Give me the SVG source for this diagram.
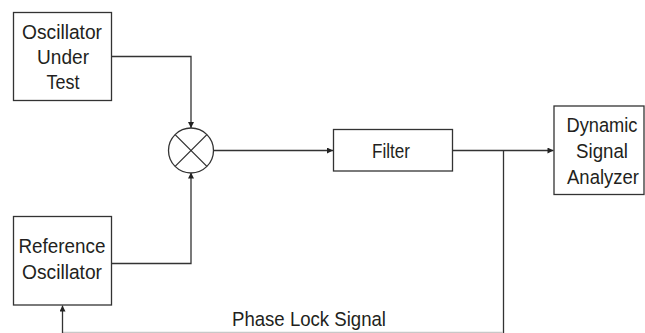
<svg xmlns="http://www.w3.org/2000/svg" width="645" height="333" viewBox="0 0 645 333">
<style>
.box{fill:#fff;stroke:#333;stroke-width:1.3}
.ln{fill:none;stroke:#333;stroke-width:1.3}
.t{font-family:"Liberation Sans",Arial,sans-serif;font-size:20.5px;fill:#231f20;text-anchor:middle}
</style>
<defs>
<marker id="ah" viewBox="0 0 10 10" refX="10" refY="5" markerWidth="7" markerHeight="6" markerUnits="userSpaceOnUse" orient="auto">
<path d="M0,0 L10,5 L0,10 Z" fill="#222"/>
</marker>
</defs>
<rect width="645" height="333" fill="#fff"/>
<g id="connectors">
<path class="ln" d="M112,56.5 H191 V128" marker-end="url(#ah)"/>
<path class="ln" d="M112,263.5 H191 V172.5" marker-end="url(#ah)"/>
<path class="ln" d="M213.5,150.5 H333" marker-end="url(#ah)"/>
<path class="ln" d="M453,150.5 H553.5" marker-end="url(#ah)"/>
<path class="ln" d="M503.5,150.5 V333"/>
<path d="M62.5,332.5 H503" fill="none" stroke="#c8c8c8" stroke-width="1.3"/>
<path class="ln" d="M62.5,333 V305.5" marker-end="url(#ah)"/>
</g>
<g id="oscillator-under-test">
<rect class="box" x="13.5" y="12.5" width="98" height="88"/>
<text class="t" x="62" y="38.5" textLength="80" lengthAdjust="spacingAndGlyphs">Oscillator</text>
<text class="t" x="63" y="63.5" textLength="52" lengthAdjust="spacingAndGlyphs">Under</text>
<text class="t" x="63" y="88.5" textLength="33" lengthAdjust="spacingAndGlyphs">Test</text>
</g>
<g id="mixer">
<circle class="box" cx="191" cy="150.5" r="22.5"/>
<path class="ln" d="M175.1,134.6 L206.9,166.4 M206.9,134.6 L175.1,166.4"/>
</g>
<g id="filter">
<rect class="box" x="333.5" y="129.5" width="119" height="41.5"/>
<text class="t" x="391" y="158" textLength="38" lengthAdjust="spacingAndGlyphs">Filter</text>
</g>
<g id="dynamic-signal-analyzer">
<rect class="box" x="554" y="106" width="90" height="88.5"/>
<text class="t" x="602" y="131.5" textLength="71" lengthAdjust="spacingAndGlyphs">Dynamic</text>
<text class="t" x="602" y="157.5" textLength="52" lengthAdjust="spacingAndGlyphs">Signal</text>
<text class="t" x="603" y="184" textLength="72" lengthAdjust="spacingAndGlyphs">Analyzer</text>
</g>
<g id="reference-oscillator">
<rect class="box" x="13.5" y="216.5" width="98" height="88.5"/>
<text class="t" x="62" y="253" textLength="87" lengthAdjust="spacingAndGlyphs">Reference</text>
<text class="t" x="62" y="279" textLength="80" lengthAdjust="spacingAndGlyphs">Oscillator</text>
</g>
<text class="t" x="309" y="325.5" textLength="154" lengthAdjust="spacingAndGlyphs">Phase Lock Signal</text>
</svg>
